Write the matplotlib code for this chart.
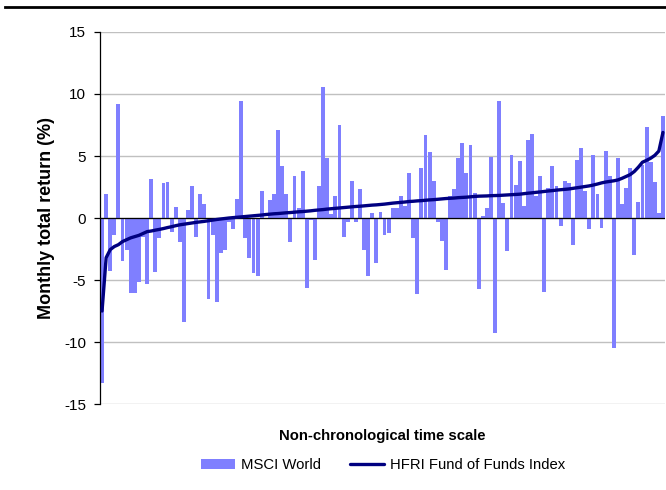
import matplotlib
matplotlib.use("Agg")
import matplotlib.pyplot as plt
from matplotlib.lines import Line2D
import numpy as np

plt.rcParams['font.family'] = ['Liberation Sans', 'DejaVu Sans']

# MSCI World monthly returns (%), in the order of the sorted HFRI series
msci_world = [
    -13.3, 1.9, -4.3, -1.35, 9.2, -3.45, -2.55, -6.05, -6.05, -5.2,
    -1.5, -5.3, 3.15, -4.35, -1.6, 2.8, 2.9, -1.1, 0.9, -1.9,
    -8.4, 0.65, 2.55, -1.5, 1.9, 1.15, -6.5, -1.35, -6.75, -2.8,
    -2.6, -0.3, -0.9, 1.55, 9.45, -1.65, -3.2, -4.4, -4.65, 2.2,
    -0.1, 1.45, 1.95, 7.1, 4.2, 1.9, -1.9, 3.4, 0.8, 3.8,
    -5.65, -0.2, -3.4, 2.55, 10.6, 4.8, 0.3, 1.75, 7.5, -1.5,
    -0.3, 3.0, -0.3, 2.35, -2.6, -4.65, 0.4, -3.6, 0.45, -1.4,
    -1.2, 0.8, 0.8, 1.8, 0.95, 3.6, -1.6, -6.15, 4.0, 6.7,
    5.3, 3.0, -0.3, -1.85, -4.2, 1.8, 2.3, 4.85, 6.05, 3.6,
    5.85, 2.0, -5.7, 0.2, 0.8, 4.9, -9.3, 9.45, 1.2, -2.7,
    5.05, 2.7, 4.6, 0.95, 6.25, 6.8, 1.75, 3.4, -6.0, 2.4,
    4.2, 2.55, -0.65, 3.0, 2.8, -2.2, 4.7, 5.65, 2.2, -0.9,
    5.05, 1.9, -0.8, 5.4, 3.4, -10.5, 4.8, 1.1, 2.4, 4.0,
    -2.95, 1.3, 4.3, 7.35, 4.5, 2.9, 0.4, 8.25,
]

# HFRI Fund of Funds Index monthly returns (%), sorted ascending
hfri_fof = [
    -7.50, -3.20, -2.55, -2.30, -2.15, -1.90, -1.75, -1.60, -1.50, -1.40,
    -1.25, -1.10, -1.05, -0.98, -0.92, -0.85, -0.77, -0.70, -0.62, -0.55,
    -0.50, -0.45, -0.40, -0.35, -0.31, -0.27, -0.22, -0.17, -0.12, -0.08,
    -0.04, 0.00, 0.03, 0.06, 0.09, 0.12, 0.15, 0.18, 0.21, 0.24,
    0.28, 0.31, 0.34, 0.36, 0.39, 0.42, 0.44, 0.47, 0.50, 0.52,
    0.55, 0.58, 0.62, 0.65, 0.68, 0.72, 0.75, 0.78, 0.81, 0.84,
    0.87, 0.90, 0.93, 0.95, 0.98, 1.01, 1.04, 1.06, 1.09, 1.12,
    1.16, 1.20, 1.23, 1.26, 1.29, 1.33, 1.35, 1.38, 1.40, 1.43,
    1.46, 1.48, 1.51, 1.54, 1.57, 1.59, 1.61, 1.64, 1.66, 1.68,
    1.71, 1.74, 1.76, 1.77, 1.78, 1.80, 1.81, 1.82, 1.84, 1.86,
    1.88, 1.90, 1.92, 1.96, 2.00, 2.03, 2.07, 2.10, 2.14, 2.18,
    2.21, 2.25, 2.28, 2.31, 2.34, 2.39, 2.44, 2.49, 2.54, 2.59,
    2.66, 2.74, 2.83, 2.90, 2.95, 3.00, 3.07, 3.20, 3.35, 3.50,
    3.75, 4.10, 4.50, 4.65, 4.82, 5.05, 5.40, 6.90,
]

yticks = [-15, -10, -5, 0, 5, 10, 15]

fig = plt.figure(figsize=(6.66, 4.9), dpi=100)
ax = fig.add_axes([100 / 666, 1 - 404 / 490, 565 / 666, 372 / 490])

x = np.arange(len(msci_world))
bars = ax.bar(x, msci_world, width=0.95, color='#7F7FFF', label='MSCI World',
              zorder=2)
line, = ax.plot(x, hfri_fof, color='#000080', lw=2.4,
                label='HFRI Fund of Funds Index', zorder=4,
                solid_capstyle='round')
ax.axhline(0, color='black', lw=0.9, zorder=3)

ax.set_xlim(-0.5, len(msci_world) - 0.5)
ax.set_ylim(-15, 15)
ax.set_yticks(yticks)
ax.set_yticklabels([str(t) for t in yticks], fontsize=11)
ax.set_xticks([])
ax.yaxis.grid(True, color='#C0C0C0', lw=1)
ax.set_axisbelow(True)
for s in ['top', 'right', 'bottom']:
    ax.spines[s].set_visible(False)
ax.spines['left'].set_color('black')
ax.spines['left'].set_linewidth(0.9)
ax.tick_params(axis='y', direction='out', length=4, width=0.9, pad=6)

ax.set_ylabel('Monthly total return (%)', fontsize=13, fontweight='bold')
ax.yaxis.set_label_coords(-0.08, 0.5)
ax.set_xlabel('Non-chronological time scale', fontsize=10.7, fontweight='bold')
ax.xaxis.set_label_coords(0.5, -0.068)

fig.legend([bars, line], ['MSCI World', 'HFRI Fund of Funds Index'],
           loc='center', bbox_to_anchor=(383 / 666, 1 - 465 / 490), ncol=2,
           frameon=False, fontsize=10.7, handlelength=2.3, handletextpad=0.35,
           columnspacing=2.0)

fig.add_artist(Line2D([5 / 666, 1], [1 - 7 / 490, 1 - 7 / 490], color='black', lw=2))

fig.savefig('out.png', dpi=100)
